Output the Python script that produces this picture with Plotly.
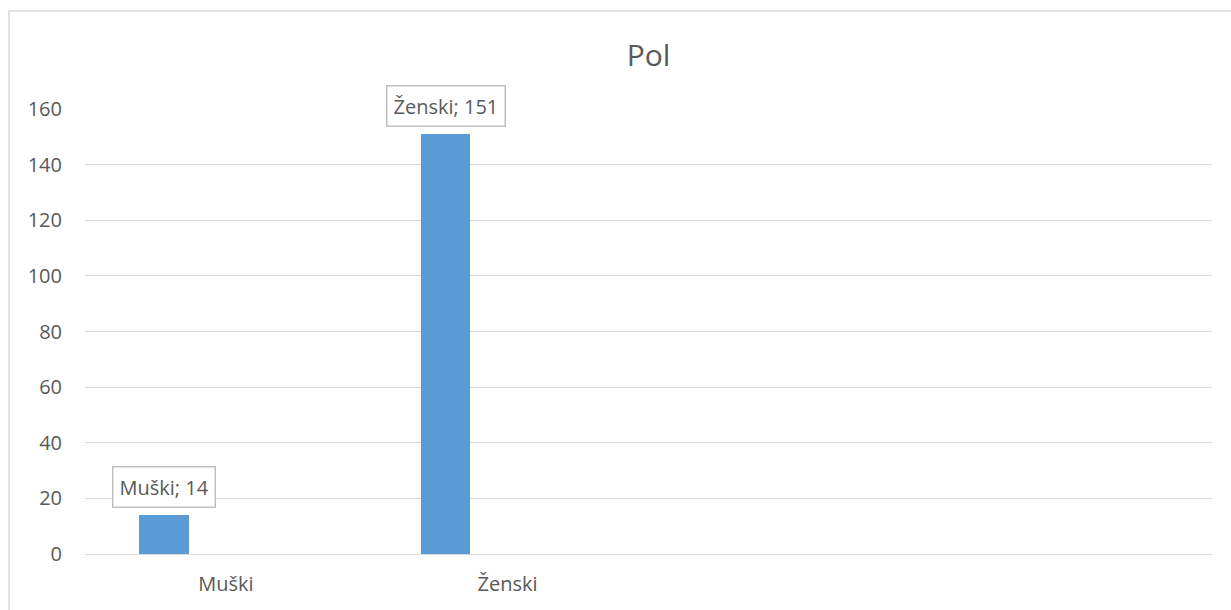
import plotly.graph_objects as go

# Category slots on the x axis (two unused slots keep the Excel-like spacing)
categories = ["Muški", "Ženski", "\u200b", "\u200b\u200b"]
bar_categories = ["Muški", "Ženski"]
counts = [14, 151]
label_texts = [f"{c}; {v}" for c, v in zip(bar_categories, counts)]
y_ticks = [0, 20, 40, 60, 80, 100, 120, 140, 160]

W, H = 1231, 610
L, R, T, B = 85, 19, 109, 56
BAR_OFFSET = -0.308
BAR_WIDTH = 0.176
FONT = "Open Sans, Liberation Sans, sans-serif"
GREY = "#595959"

fig = go.Figure()
fig.add_trace(go.Bar(
    x=bar_categories,
    y=counts,
    width=BAR_WIDTH,
    offset=BAR_OFFSET,
    marker=dict(color="#5B9BD5", line=dict(width=0)),
    hoverinfo="x+y",
))

# Boxed data labels above each bar
for i, (v, txt) in enumerate(zip(counts, label_texts)):
    fig.add_annotation(
        x=i + BAR_OFFSET + BAR_WIDTH / 2, y=v,
        xref="x", yref="y",
        text=txt, showarrow=False,
        yanchor="bottom", yshift=7,
        font=dict(family=FONT, size=20, color=GREY),
        bgcolor="white", bordercolor="#bfbfbf", borderwidth=1.5, borderpad=6,
    )

# Outer chart frame
pw, ph = W - L - R, H - T - B
fig.add_shape(
    type="rect", xref="paper", yref="paper",
    x0=(9 - L) / pw, x1=(W + 5 - L) / pw,
    y0=-(H + 5 - T - ph) / ph, y1=(H - 11 - B) / ph,
    line=dict(color="#d9d9d9", width=1.5), fillcolor="rgba(0,0,0,0)",
    layer="below",
)

fig.update_layout(
    width=W, height=H,
    margin=dict(l=L, r=R, t=T, b=B, pad=0),
    paper_bgcolor="white", plot_bgcolor="white",
    showlegend=False,
    title=dict(text="Pol", x=0.5, xref="paper", xanchor="center",
               y=1 - 55 / H, yanchor="middle",
               font=dict(family=FONT, size=30, color=GREY)),
    font=dict(family=FONT, size=20, color=GREY),
    xaxis=dict(
        type="category", categoryorder="array", categoryarray=categories,
        range=[-0.5, 3.5], tickvals=categories,
        ticktext=["Muški", "Ženski", "", ""],
        showgrid=False, showline=False, zeroline=False,
        ticks="outside", ticklen=12, tickcolor="rgba(0,0,0,0)",
        tickfont=dict(family=FONT, size=20, color=GREY),
        fixedrange=True,
    ),
    yaxis=dict(
        range=[0, 160], tickvals=y_ticks,
        showgrid=True, gridcolor="#d9d9d9", gridwidth=1.3,
        zeroline=True, zerolinecolor="#d9d9d9", zerolinewidth=1.3,
        showline=False,
        ticks="outside", ticklen=18, tickcolor="rgba(0,0,0,0)",
        tickfont=dict(family=FONT, size=20, color=GREY),
        fixedrange=True,
    ),
    bargap=0,
)

fig.write_html("out.html")
